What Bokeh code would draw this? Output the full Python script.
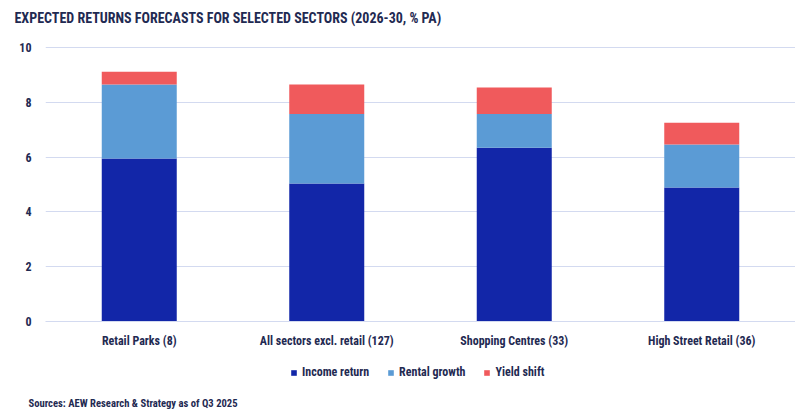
from bokeh.plotting import figure
from bokeh.models import ColumnDataSource, Legend, LegendItem, Label, FixedTicker, Range1d, Spacer
from bokeh.layouts import column, row
from bokeh.embed import file_html
from bokeh.resources import INLINE

categories = ["Retail Parks (8)", "All sectors excl. retail (127)", "Shopping Centres (33)", "High Street Retail (36)"]
income_return = [5.95, 5.04, 6.34, 4.89]
rental_growth = [2.70, 2.54, 1.24, 1.57]
yield_shift = [0.47, 1.07, 0.96, 0.80]
series = ["Income return", "Rental growth", "Yield shift"]
colors = ["#1226A8", "#5B9BD5", "#F05A5C"]
y_ticks = [0, 2, 4, 6, 8, 10]
title_text = "EXPECTED RETURNS FORECASTS FOR SELECTED SECTORS (2026-30, % PA)"
source_text = "Sources: AEW Research & Strategy as of Q3 2025"

FONT = "'Roboto Condensed', 'Liberation Sans Narrow', 'DejaVu Sans Condensed', Roboto, sans-serif"
TXT = "#1f2a52"
GRID = "#d3daf0"

src = ColumnDataSource(dict(cat=categories, income=income_return, rental=rental_growth, yld=yield_shift))
stack_cols = ["income", "rental", "yld"]

# header with the title
head = figure(x_range=Range1d(0, 810), y_range=Range1d(0, 40), frame_width=810, frame_height=40,
              output_backend="svg", toolbar_location=None, x_axis_type=None, y_axis_type=None,
              min_border=0)
head.outline_line_color = None
head.grid.visible = False
head.add_layout(Label(x=14, y=23, text=title_text, text_font=FONT, text_font_size="14px",
                      text_font_style="bold", text_color=TXT, text_baseline="middle"))

# main chart
p = figure(x_range=categories, y_range=(0, 10.26), frame_width=750, frame_height=281,
           output_backend="svg", toolbar_location=None, min_border=0)
p.vbar_stack(stack_cols, x="cat", width=0.4, fill_color=colors, line_color=None, source=src)

p.outline_line_color = None
p.xgrid.grid_line_color = None
p.ygrid.grid_line_color = GRID
p.ygrid.grid_line_width = 1.2
p.yaxis.ticker = FixedTicker(ticks=y_ticks)
p.yaxis.axis_line_color = None
p.yaxis.major_tick_line_color = None
p.yaxis.minor_tick_line_color = None
p.yaxis.major_tick_out = 0
p.yaxis.major_label_standoff = 14
p.yaxis.major_label_text_font = FONT
p.yaxis.major_label_text_font_size = "12px"
p.yaxis.major_label_text_font_style = "bold"
p.yaxis.major_label_text_color = TXT

p.xaxis.axis_line_color = GRID
p.xaxis.axis_line_width = 1.2
p.xaxis.major_tick_line_color = None
p.xaxis.minor_tick_line_color = None
p.xaxis.major_tick_out = 0
p.xaxis.major_label_standoff = 12
p.xaxis.major_label_text_font = FONT
p.xaxis.major_label_text_font_size = "12px"
p.xaxis.major_label_text_font_style = "bold"
p.xaxis.major_label_text_color = TXT

# footer: legend + source (legend swatches come from zero-width copies of the stacked bars, kept out of view)
foot = figure(x_range=categories, y_range=Range1d(-100, -90), frame_width=810, frame_height=64,
              output_backend="svg", toolbar_location=None, x_axis_type=None, y_axis_type=None,
              min_border=0)
foot.outline_line_color = None
foot.grid.visible = False
fr = foot.vbar_stack(stack_cols, x="cat", width=0, fill_color=colors, line_color=None, source=src)
legend = Legend(items=[LegendItem(label=s, renderers=[rr]) for s, rr in zip(series, fr)],
                orientation="horizontal", location=(290, 35),
                label_text_font=FONT, label_text_font_size="12px", label_text_font_style="bold",
                label_text_color=TXT, glyph_width=7, glyph_height=7, spacing=18,
                label_standoff=5, padding=0, margin=0, border_line_color=None,
                background_fill_alpha=0)
foot.add_layout(legend, "center")
foot.add_layout(Label(x=28, y=11, x_units="screen", y_units="screen", text=source_text,
                      text_font=FONT, text_font_size="10.6px", text_font_style="bold",
                      text_color=TXT, text_baseline="middle"))

layout = column(head, row(Spacer(width=16, height=10), p, spacing=0), foot, spacing=0)
open("out.html", "w").write(file_html(layout, INLINE))
